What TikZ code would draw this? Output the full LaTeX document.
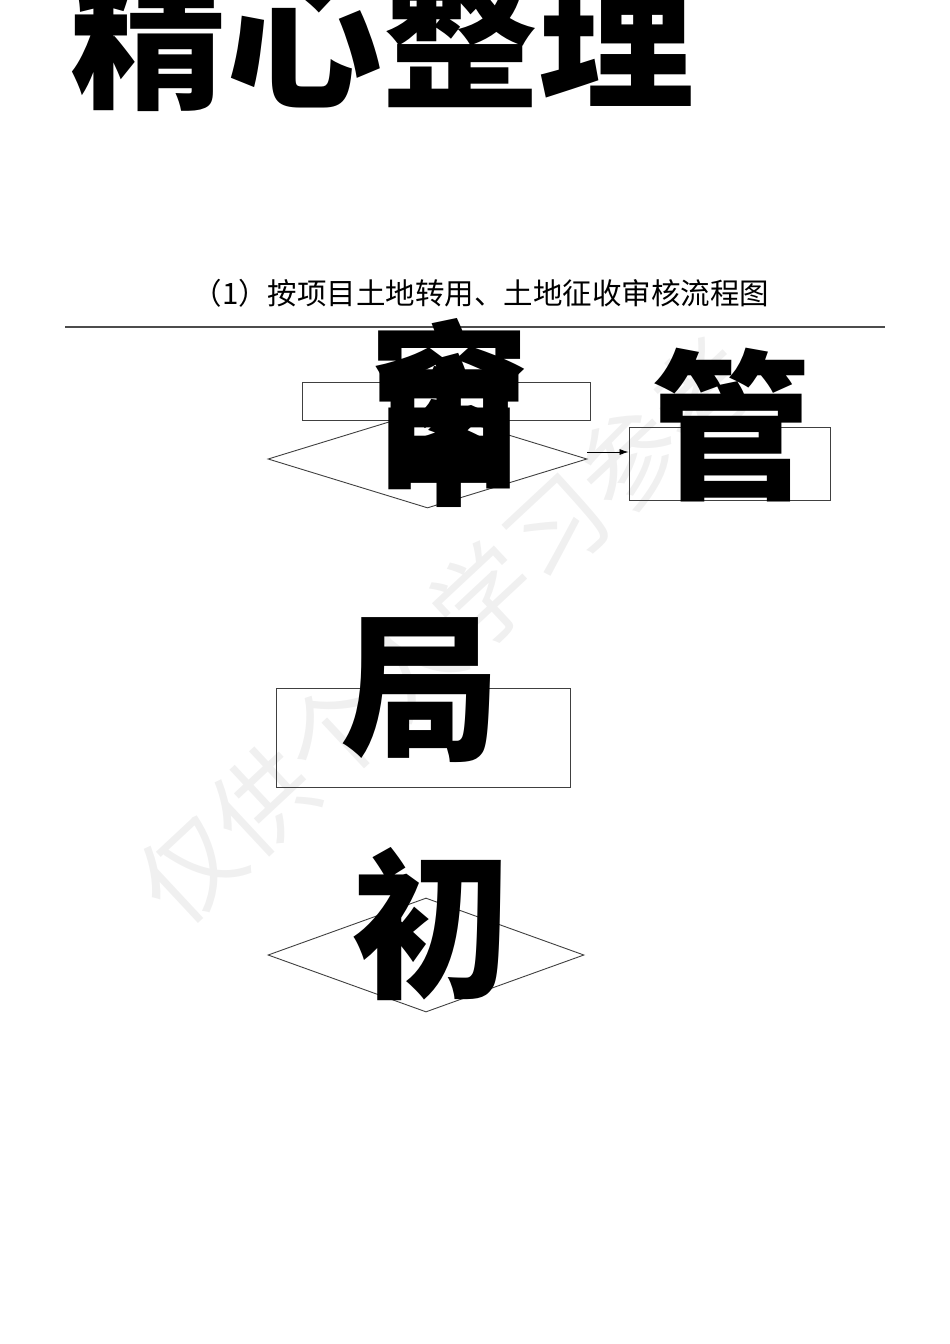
\documentclass[tikz,border=0pt]{standalone}
\usepackage{fontspec}
\newfontfamily\cjk{Noto Sans CJK SC}
\usetikzlibrary{shapes.geometric,arrows.meta}

\tikzset{
  bigglyph/.style={inner sep=0pt, font=\cjk\bfseries\fontsize{160}{160}\selectfont},
  flowbox/.style={draw=black!75, line width=0.9pt, rectangle, inner sep=0pt},
  flowdiamond/.style={draw=black!75, line width=0.9pt, diamond, inner sep=0pt},
  flowarrow/.style={draw=black, line width=0.8pt, -{Latex[length=9pt,width=6pt]}},
  watermark/.style={inner sep=0pt, text=black!6, font=\cjk\fontsize{100}{100}\selectfont}
}

\begin{document}
\begin{tikzpicture}[x=1pt,y=-1pt]
  \useasboundingbox (0,0) rectangle (950,1344);

  % Watermark behind everything
  \node[watermark, rotate=43] (wm) at (446,630) {仅供个人学习参考};

  % Title and caption
  \node[inner sep=0pt, font=\cjk\bfseries\fontsize{156}{156}\selectfont] (title) at (382,37) {精心整理};
  \node[inner sep=0pt, font=\cjk\fontsize{29.5}{30}\selectfont] (cap) at (481,293) {（1）按项目土地转用、土地征收审核流程图};
  \draw[black!70, line width=1.6pt] (65,327) -- (885,327);

  % Shapes of the chart
  \node[flowbox, minimum width=288, minimum height=38] (b1) at (446,401) {};
  \node[flowdiamond, minimum width=319, minimum height=98] (d1) at (427.5,459) {};
  \node[flowbox, minimum width=201, minimum height=73] (b2) at (729.5,463.5) {};
  \node[flowbox, minimum width=294, minimum height=99] (b3) at (423,737.5) {};
  \node[flowdiamond, minimum width=316, minimum height=114] (d2) at (426,955) {};

  % Arrow from the first diamond to the right box
  \coordinate (a1) at (587,452);
  \draw[flowarrow] (a1) -- (a1 -| b2.west);

  % Oversized labels
  \node[bigglyph] (g1) at (449,395) {窗};
  \node[bigglyph] (g2) at (449,430) {审};
  \node[bigglyph] (g3) at (731,425) {管};
  \node[bigglyph] (g4) at (420,690) {局};
  \node[bigglyph] (g5) at (431,924) {初};
\end{tikzpicture}
\end{document}
